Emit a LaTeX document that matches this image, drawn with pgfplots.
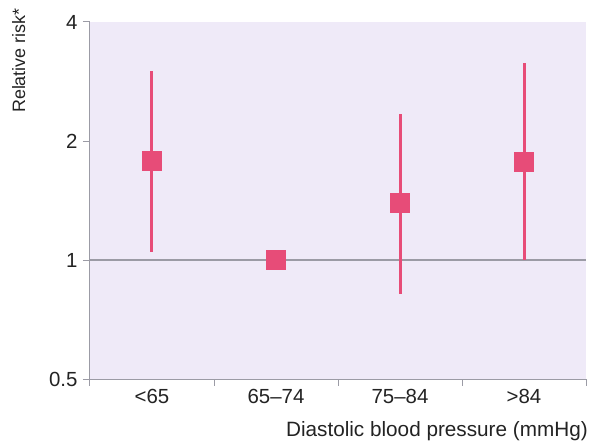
\documentclass[border=0pt]{standalone}
\usepackage{pgfplots}
\pgfplotsset{compat=1.18}
\usepackage{fontspec}
\setmainfont{Liberation Sans}
\definecolor{rr}{RGB}{231,76,120}
\definecolor{bg}{RGB}{239,234,248}
\definecolor{ax}{RGB}{155,155,165}
\definecolor{txt}{RGB}{35,35,35}
\begin{document}
\begin{tikzpicture}
\useasboundingbox (-90bp,-62bp) rectangle (502bp,379bp);
\begin{axis}[
  at={(0,0)}, anchor=south west,
  scale only axis, width=496bp, height=357bp,
  xmin=0.5, xmax=4.5,
  ymode=log, log basis y=2, ymin=0.5, ymax=4,
  ytick={0.5,1,2,4}, yticklabels={0.5,1,2,4},
  xtick={1,2,3,4}, xticklabels={<65,65--74,75--84,>84},
  minor xtick={0.5,1.5,2.5,3.5,4.5},
  major x tick style={draw=none},
  tick align=outside, major tick length=7bp, minor tick length=7bp,
  axis x line*=bottom, axis y line*=left,
  axis line style={ax, line width=1bp, -},
  tick style={ax, line width=1bp},
  axis background/.style={fill=bg},
  ticklabel style={font=\fontsize{20.5}{23}\selectfont, text=txt},
  yticklabel style={xshift=-2bp},
  ylabel={Relative risk*},
  ylabel style={at={(rel axis cs:-0.1573,1.039)}, anchor=north east, inner sep=0pt, font=\fontsize{18}{21}\selectfont, text=txt},
  xlabel={Diastolic blood pressure (mmHg)},
  xlabel style={at={(rel axis cs:1.004,-0.1597)}, anchor=base east, inner sep=0pt, font=\fontsize{20.8}{23}\selectfont, text=txt},
  clip=false,
]
\addplot[ax, line width=1.4bp] coordinates {(0.5,1) (4.5,1)};
\addplot[rr, line width=3bp] coordinates {(1,1.048) (1,3.0)};
\addplot[rr, line width=3bp] coordinates {(3,0.821) (3,2.34)};
\addplot[rr, line width=3bp] coordinates {(4,1.0) (4,3.15)};
\addplot[only marks, mark=square*, mark size=9.5bp, rr, mark options={fill=rr, draw=rr}]
  coordinates {(1,1.78) (2,1.0) (3,1.396) (4,1.774)};
\end{axis}
\end{tikzpicture}
\end{document}
